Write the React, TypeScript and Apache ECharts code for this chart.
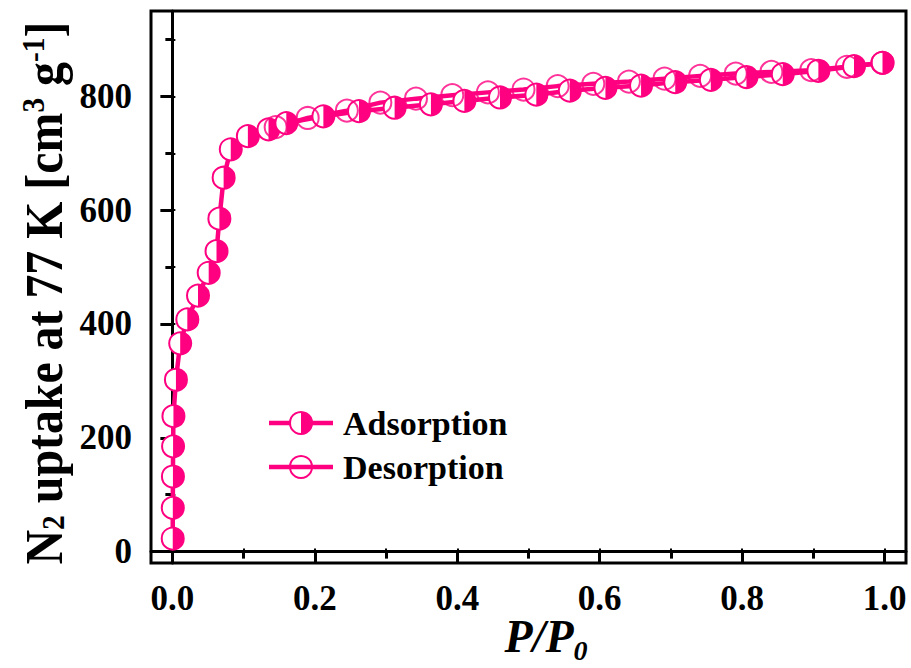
import React, { useEffect, useRef } from "react";
import * as echarts from "echarts";

const PINK = "#FF0080";
const FONT = "'Liberation Serif', 'Times New Roman', serif";

const adsorptionP = [0.0005, 0.0006, 0.0008, 0.001, 0.0015, 0.005, 0.011, 0.021, 0.036, 0.051, 0.062, 0.066, 0.072, 0.082, 0.106, 0.135, 0.16, 0.212, 0.262, 0.312, 0.363, 0.41, 0.46, 0.511, 0.558, 0.608, 0.658, 0.706, 0.756, 0.806, 0.857, 0.907, 0.957, 0.997];
const adsorptionUptake = [23, 77, 132, 185, 238, 302, 366, 408, 450, 490, 528, 585, 657, 707, 730, 742, 753, 765, 774, 780, 786, 792, 798, 803, 810, 815, 819, 825, 829, 834, 839, 845, 853, 859];

const desorptionP = [0.997, 0.947, 0.897, 0.841, 0.791, 0.741, 0.691, 0.641, 0.591, 0.541, 0.493, 0.443, 0.393, 0.342, 0.292, 0.245, 0.19, 0.145];
const desorptionUptake = [859, 852, 846, 843, 840, 836, 831, 826, 822, 818, 812, 807, 802, 796, 789, 775, 762, 746];

const xMajorTicks = [0, 0.2, 0.4, 0.6, 0.8, 1.0];
const xMinorTicks = [0.1, 0.3, 0.5, 0.7, 0.9];
const yMajorTicks = [0, 200, 400, 600, 800];
const yMinorTicks = [100, 300, 500, 700, 900];

const R = 11;

export default function App() {
  const ref = useRef<HTMLDivElement>(null);
  useEffect(() => {
    if (!ref.current) return;
    const chart = echarts.init(ref.current, undefined, { renderer: "svg" });
    const ads = adsorptionP.map((p, i) => [p, adsorptionUptake[i]]);
    const des = desorptionP.map((p, i) => [p, desorptionUptake[i]]);
    const labelStyle = { fontSize: 35, fontWeight: "bold", fontFamily: FONT, color: "#000" };
    const tickStyle = { color: "#000", width: 3 };
    const allX = [...xMajorTicks, ...xMinorTicks].sort((a, b) => a - b);
    const allY = [...yMajorTicks, ...yMinorTicks].sort((a, b) => a - b);

    chart.setOption({
      animation: false,
      backgroundColor: "#fff",
      grid: { left: 151, right: 5, top: 11, bottom: 105, show: true, borderColor: "#000", borderWidth: 3, backgroundColor: "transparent" },
      xAxis: [
        {
          type: "value", min: -0.03, max: 1.03, position: "bottom",
          axisLine: { show: true, lineStyle: tickStyle },
          axisTick: { show: true, length: 12, lineStyle: tickStyle, customValues: xMajorTicks },
          axisLabel: { ...labelStyle, margin: 18, customValues: xMajorTicks, formatter: (v: number) => v.toFixed(1) },
          splitLine: { show: false },
        },
        {
          type: "value", min: -0.03, max: 1.03, position: "bottom",
          axisLine: { show: false },
          axisTick: { show: true, length: 7, lineStyle: tickStyle, customValues: xMinorTicks },
          axisLabel: { show: false },
          splitLine: { show: false },
        },
        {
          type: "value", min: -0.03, max: 1.03, position: "top",
          axisLine: { show: false },
          axisTick: { show: true, length: 3, lineStyle: { color: "#000", width: 2 }, customValues: allX },
          axisLabel: { show: false },
          splitLine: { show: false },
        },
      ],
      yAxis: [
        {
          type: "value", min: -20, max: 950, position: "left",
          axisLine: { show: true, lineStyle: tickStyle },
          axisTick: { show: true, length: 12, lineStyle: tickStyle, customValues: yMajorTicks },
          axisLabel: { ...labelStyle, margin: 19, customValues: yMajorTicks },
          splitLine: { show: false },
        },
        {
          type: "value", min: -20, max: 950, position: "left",
          axisLine: { show: false },
          axisTick: { show: true, length: 7, lineStyle: tickStyle, customValues: yMinorTicks },
          axisLabel: { show: false },
          splitLine: { show: false },
        },
        {
          type: "value", min: -20, max: 950, position: "right",
          axisLine: { show: false },
          axisTick: { show: true, length: 3, lineStyle: { color: "#000", width: 2 }, customValues: allY },
          axisLabel: { show: false },
          splitLine: { show: false },
        },
      ],
      series: [
        {
          name: "Adsorption", type: "line", data: ads, showSymbol: false, z: 2,
          lineStyle: { color: PINK, width: 4.5 }, itemStyle: { color: PINK },
        },
        {
          name: "Desorption", type: "line", data: des, showSymbol: false, z: 2,
          lineStyle: { color: PINK, width: 4.5 }, itemStyle: { color: PINK },
        },
        {
          name: "AdsorptionMarkers", type: "custom", data: ads, z: 3, clip: false,
          encode: { x: 0, y: 1 },
          renderItem: (params: any, api: any) => {
            const c = api.coord([api.value(0), api.value(1)]);
            return {
              type: "group",
              children: [
                { type: "circle", shape: { cx: c[0], cy: c[1], r: R }, style: { fill: "#fff", stroke: PINK, lineWidth: 2 } },
                { type: "sector", shape: { cx: c[0], cy: c[1], r0: 0, r: R, startAngle: -Math.PI / 2, endAngle: Math.PI / 2, clockwise: true }, style: { fill: PINK } },
              ],
            };
          },
        },
        {
          name: "DesorptionMarkers", type: "scatter", data: des, z: 4,
          symbol: "circle", symbolSize: 2 * R,
          itemStyle: { color: "rgba(0,0,0,0)", borderColor: PINK, borderWidth: 2 },
        },
      ],
      graphic: [
        // y axis title
        {
          type: "text", x: 44, y: 293, rotation: Math.PI / 2, scaleX: 0.92, scaleY: 1,
          style: {
            text: "{b|N}{sub|2}{b| uptake at 77 K [cm}{sup|3}{b| g}{sup|-1}{b|]}",
            align: "center", verticalAlign: "middle",
            rich: {
              b: { fontSize: 52, fontWeight: "bold", fontFamily: FONT, fill: "#000", lineHeight: 52 },
              sub: { fontSize: 32, fontWeight: "bold", fontFamily: FONT, fill: "#000", verticalAlign: "bottom", lineHeight: 52 },
              sup: { fontSize: 32, fontWeight: "bold", fontFamily: FONT, fill: "#000", verticalAlign: "top", lineHeight: 52 },
            },
          },
        },
        // x axis title
        {
          type: "text", x: 546, y: 636,
          style: {
            text: "{p|P/P}{s|0}",
            align: "center", verticalAlign: "middle",
            rich: {
              p: { fontSize: 46, fontWeight: "bold", fontStyle: "italic", fontFamily: FONT, fill: "#000", lineHeight: 46 },
              s: { fontSize: 28, fontWeight: "bold", fontStyle: "italic", fontFamily: FONT, fill: "#000", verticalAlign: "bottom", lineHeight: 56 },
            },
          },
        },
        // legend
        { type: "line", shape: { x1: 269, y1: 423, x2: 333, y2: 423 }, style: { stroke: PINK, lineWidth: 4.5 } },
        { type: "circle", shape: { cx: 301, cy: 423, r: R }, style: { fill: "#fff", stroke: PINK, lineWidth: 2 } },
        { type: "sector", shape: { cx: 301, cy: 423, r0: 0, r: R, startAngle: -Math.PI / 2, endAngle: Math.PI / 2, clockwise: true }, style: { fill: PINK } },
        { type: "text", x: 343, y: 423, style: { text: "Adsorption", fontSize: 34, fontWeight: "bold", fontFamily: FONT, fill: "#000", verticalAlign: "middle", align: "left" } },
        { type: "line", shape: { x1: 269, y1: 467, x2: 333, y2: 467 }, style: { stroke: PINK, lineWidth: 4.5 } },
        { type: "circle", shape: { cx: 301, cy: 467, r: R }, style: { fill: "rgba(0,0,0,0)", stroke: PINK, lineWidth: 2 } },
        { type: "text", x: 343, y: 467, style: { text: "Desorption", fontSize: 34, fontWeight: "bold", fontFamily: FONT, fill: "#000", verticalAlign: "middle", align: "left" } },
      ],
    });
    return () => chart.dispose();
  }, []);
  return <div ref={ref} style={{ position: "fixed", left: 0, top: 0, width: 911, height: 668, background: "#fff" }} />;
}
